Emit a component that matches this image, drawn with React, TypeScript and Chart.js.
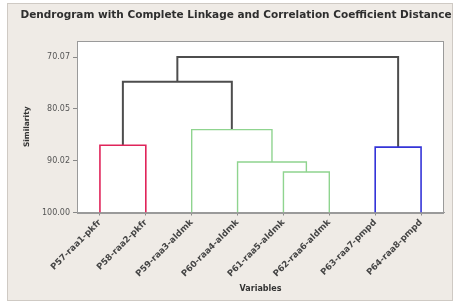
import React, { useEffect, useRef } from "react";
import { Chart, registerables } from "chart.js";

Chart.register(...registerables);

// ---- data ----
const leafLabels = [
  "P57-raa1-pkfr",
  "P58-raa2-pkfr",
  "P59-raa3-aldmk",
  "P60-raa4-aldmk",
  "P61-raa5-aldmk",
  "P62-raa6-aldmk",
  "P63-raa7-pmpd",
  "P64-raa8-pmpd",
];
// merge k creates node (leafLabels.length + k)
const mergeLeft = [4, 3, 2, 0, 6, 11, 13];
const mergeRight = [5, 8, 9, 1, 7, 10, 12];
const mergeSimilarity = [92.2, 90.28, 84.03, 87.06, 87.4, 74.84, 70.07];
const mergeGroup = ["green", "green", "green", "red", "blue", "black", "black"];
const yTickValues = [70.07, 80.05, 90.02, 100.0];
const leafSimilarity = 100;

const groupColors: Record<string, string> = {
  red: "#e0245a",
  green: "#8fd48f",
  blue: "#3434d8",
  black: "#4d4d4d",
};
const groupWidths: Record<string, number> = {
  red: 1.6,
  green: 1.4,
  blue: 1.6,
  black: 2,
};

function buildDatasets() {
  const nodeX: number[] = leafLabels.map((_, i) => i);
  const nodeY: number[] = leafLabels.map(() => leafSimilarity);
  const sets: any[] = [];
  mergeLeft.forEach((l, k) => {
    const r = mergeRight[k];
    const h = mergeSimilarity[k];
    const g = mergeGroup[k];
    sets.push({
      data: [
        { x: nodeX[l], y: nodeY[l] },
        { x: nodeX[l], y: h },
        { x: nodeX[r], y: h },
        { x: nodeX[r], y: nodeY[r] },
      ],
      showLine: true,
      borderColor: groupColors[g],
      borderWidth: groupWidths[g],
      pointRadius: 0,
      tension: 0,
      fill: false,
    });
    nodeX.push((nodeX[l] + nodeX[r]) / 2);
    nodeY.push(h);
  });
  return sets;
}

const framePlugin = {
  id: "frame",
  beforeDraw(chart: any) {
    const { ctx, chartArea } = chart;
    ctx.save();
    ctx.fillStyle = "#ffffff";
    ctx.fillRect(0, 0, chart.width, chart.height);
    ctx.fillStyle = "#efebe6";
    ctx.fillRect(7, 3, 446, 298);
    ctx.strokeStyle = "#cfcac4";
    ctx.lineWidth = 1;
    ctx.strokeRect(7.5, 3.5, 445, 297);
    ctx.fillStyle = "#ffffff";
    ctx.fillRect(chartArea.left, chartArea.top, chartArea.right - chartArea.left, chartArea.bottom - chartArea.top);
    ctx.restore();
  },
  afterDraw(chart: any) {
    const { ctx, chartArea } = chart;
    ctx.save();
    ctx.strokeStyle = "#9a9a9a";
    ctx.lineWidth = 1;
    ctx.strokeRect(
      Math.round(chartArea.left) + 0.5,
      Math.round(chartArea.top) + 0.5,
      Math.round(chartArea.right - chartArea.left) - 1,
      Math.round(chartArea.bottom - chartArea.top)
    );
    ctx.restore();
  },
};

export default function App() {
  const ref = useRef<HTMLCanvasElement | null>(null);

  useEffect(() => {
    if (!ref.current) return;
    const chart = new Chart(ref.current, {
      type: "scatter",
      data: { datasets: buildDatasets() },
      plugins: [framePlugin],
      options: {
        animation: false,
        responsive: false,
        layout: { padding: { left: 12, right: 0, top: 0, bottom: 0 } },
        plugins: {
          legend: { display: false },
          tooltip: { enabled: false },
          title: {
            display: true,
            text: "Dendrogram with Complete Linkage and Correlation Coefficient Distance",
            color: "#2e2e2e",
            font: { family: "DejaVu Sans", size: 10.5, weight: "bold" },
            padding: { top: 8.5, bottom: 19.9 },
          },
        },
        scales: {
          x: {
            type: "linear",
            min: -0.5,
            max: leafLabels.length - 0.5,
            afterBuildTicks: (scale: any) => {
              scale.ticks = leafLabels.map((_, i) => ({ value: i }));
            },
            afterFit: (scale: any) => {
              scale.height = 94.5;
            },
            ticks: {
              autoSkip: false,
              minRotation: 45,
              maxRotation: 45,
              padding: 2,
              color: "#444444",
              font: { family: "DejaVu Sans", size: 8.6, weight: "bold" },
              callback: (v: any) => leafLabels[Math.round(Number(v))] ?? "",
            },
            grid: { display: true, drawOnChartArea: false, drawTicks: true, tickLength: 3, color: "#888888" },
            border: { display: true, color: "#9a9a9a" },
            title: {
              display: true,
              text: "Variables",
              color: "#333333",
              font: { family: "DejaVu Sans", size: 8, weight: "bold" },
              padding: { top: 0, bottom: 13 },
            },
          },
          y: {
            type: "linear",
            reverse: true,
            min: 66.97,
            max: 100,
            afterBuildTicks: (scale: any) => {
              scale.ticks = yTickValues.map((v) => ({ value: v }));
            },
            afterFit: (scale: any) => {
              scale.width = 65;
            },
            ticks: {
              padding: 3,
              color: "#555555",
              font: { family: "DejaVu Sans", size: 8 },
              callback: (v: any) => Number(v).toFixed(2),
            },
            grid: { display: true, drawOnChartArea: false, drawTicks: true, tickLength: 4, color: "#888888" },
            border: { display: true, color: "#9a9a9a" },
            title: {
              display: true,
              text: "Similarity",
              color: "#333333",
              font: { family: "DejaVu Sans", size: 7.5, weight: "bold" },
              padding: { top: 10.5, bottom: 0 },
            },
          },
          spacer: {
            type: "linear",
            position: "right",
            display: true,
            afterFit: (scale: any) => {
              scale.width = 16;
            },
            ticks: { display: false },
            grid: { display: false, drawTicks: false },
            border: { display: false },
          },
        },
      } as any,
    });
    return () => chart.destroy();
  }, []);

  return (
    <div style={{ position: "absolute", left: 0, top: 0, width: 460, height: 307 }}>
      <canvas ref={ref} width={460} height={307} style={{ width: 460, height: 307 }} />
    </div>
  );
}
